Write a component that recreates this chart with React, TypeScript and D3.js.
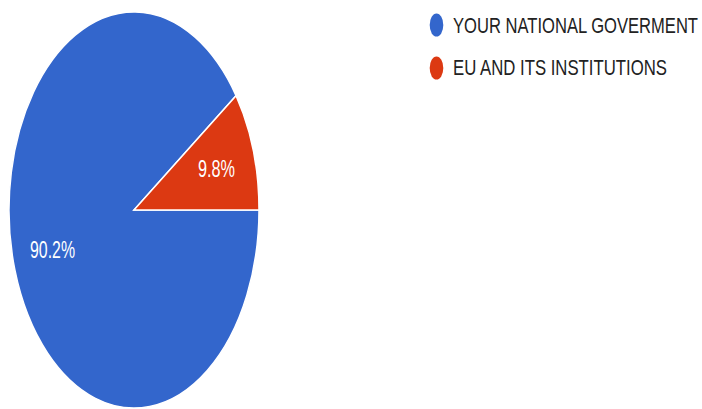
import React from "react";
import * as d3 from "d3";

const categories = ["YOUR NATIONAL GOVERMENT", "EU AND ITS INSTITUTIONS"];
const values = [90.2, 9.8];
const labels = ["90.2%", "9.8%"];
const colors = ["#3366cc", "#dc3912"];

const W = 702;
const H = 409;
const cx = 134;
const cy = 210;
const rx = 125;
const ry = 198;
const SX = 0.75;

export default function App() {
  const pie = d3
    .pie<number>()
    .sort(null)
    .startAngle(Math.PI / 2)
    .endAngle(Math.PI / 2 + 2 * Math.PI)
    .value((d) => d);
  const arcs = pie(values);
  const arc = d3.arc<d3.PieArcDatum<number>>().innerRadius(0).outerRadius(rx);
  const sy = ry / rx;

  const labelPos = [
    { x: 52.5, y: 258, w: 45 },
    { x: 216.5, y: 177, w: 37 },
  ];
  const legendY = [25, 68];
  const legendBase = [33, 75];
  const legendW = [245, 214];
  const lsx = 0.67;

  return (
    <svg
      width={W}
      height={H}
      style={{ position: "absolute", left: 0, top: 0, background: "#fff" }}
    >
      <g transform={`translate(${cx},${cy}) scale(1,${sy})`}>
        {arcs.map((a, i) => (
          <path
            key={i}
            d={arc(a) || ""}
            fill={colors[i]}
            stroke="#fff"
            strokeWidth={1.5}
            vectorEffect="non-scaling-stroke"
          />
        ))}
      </g>
      {arcs.map((a, i) => (
        <g
          key={"l" + i}
          transform={`translate(${labelPos[i].x},${labelPos[i].y}) scale(${lsx},1)`}
        >
          <text
            x={0}
            y={0}
            textAnchor="middle"
            fill="#fff"
            fontFamily="Liberation Sans, Arial, sans-serif"
            fontSize={24}
            textLength={labelPos[i].w / lsx}
            lengthAdjust="spacingAndGlyphs"
          >
            {labels[i]}
          </text>
        </g>
      ))}
      {categories.map((c, i) => (
        <g key={"g" + i}>
          <ellipse cx={436.5} cy={legendY[i]} rx={6.8} ry={11.5} fill={colors[i]} />
          <g transform={`translate(453,${legendBase[i]}) scale(${SX},1)`}>
            <text
              x={0}
              y={0}
              fill="#222"
              fontFamily="Liberation Sans, Arial, sans-serif"
              fontSize={22}
              textLength={legendW[i] / SX}
              lengthAdjust="spacingAndGlyphs"
            >
              {c}
            </text>
          </g>
        </g>
      ))}
    </svg>
  );
}
